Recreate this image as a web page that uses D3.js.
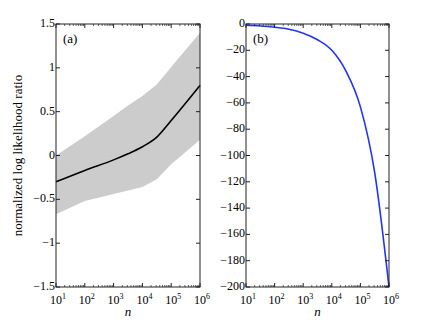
<!DOCTYPE html>
<html>
<head>
<meta charset="utf-8">
<script src="https://cdn.jsdelivr.net/npm/d3@7"></script>
<style>
  body { margin: 0; background: #fff; }
</style>
</head>
<body>
<div id="myChart"></div>
<script>
// data (x is log10 n)
let logN_a   = [1, 2, 3, 3.5, 4, 4.5, 5, 6];
let mean_a   = [-0.30, -0.17, -0.05, 0.02, 0.10, 0.21, 0.40, 0.80];
let bandLogN = [1, 2, 3, 3.5, 4, 4.5, 5, 6];
let upper_a  = [0.0, 0.22, 0.45, 0.57, 0.68, 0.81, 1.01, 1.40];
let lower_a  = [-0.67, -0.52, -0.44, -0.40, -0.36, -0.27, -0.10, 0.18];

let logN_b = [1, 1.5, 2, 2.5, 3, 3.5, 4, 4.5, 5, 5.5, 6];
let vals_b = [-1, -1.5, -2.5, -4, -7, -12, -20, -36, -63, -113, -200];

let xTicks  = [1, 2, 3, 4, 5, 6];
let yTicksA = [1.5, 1, 0.5, 0, -0.5, -1, -1.5];
let yTicksB = [0, -20, -40, -60, -80, -100, -120, -140, -160, -180, -200];

let W = 430, H = 323;
let serif = "'Liberation Serif', 'DejaVu Serif', serif";
let svg = d3.select("#myChart").append("svg")
    .attr("width", W).attr("height", H)
    .attr("font-family", serif)
    .style("font-family", serif);

function fmt(v) {
    return v < 0 ? "\u2212" + Math.abs(v) : String(v);
}

function panel(left, right, top, bottom, yDomain, yTicks, label) {
    let x = d3.scaleLinear().domain([1, 6]).range([left, right]);
    let y = d3.scaleLinear().domain(yDomain).range([bottom, top]);
    let g = svg.append("g");

    // minor ticks on the log axis
    let minors = [];
    for (let d = 1; d < 6; d++) for (let k = 2; k <= 9; k++) minors.push(d + Math.log10(k));

    return {x: x, y: y, g: g, draw: function() {
        g.append("rect")
            .attr("x", left).attr("y", top)
            .attr("width", right - left).attr("height", bottom - top)
            .attr("fill", "none").attr("stroke", "#222").attr("stroke-width", 1);

        minors.forEach(function(m) {
            g.append("line").attr("x1", x(m)).attr("x2", x(m))
                .attr("y1", bottom).attr("y2", bottom - 2).attr("stroke", "#222").attr("stroke-width", 0.7);
            g.append("line").attr("x1", x(m)).attr("x2", x(m))
                .attr("y1", top).attr("y2", top + 2).attr("stroke", "#222").attr("stroke-width", 0.7);
        });
        xTicks.forEach(function(t) {
            g.append("line").attr("x1", x(t)).attr("x2", x(t))
                .attr("y1", bottom).attr("y2", bottom - 4).attr("stroke", "#222");
            g.append("line").attr("x1", x(t)).attr("x2", x(t))
                .attr("y1", top).attr("y2", top + 4).attr("stroke", "#222");
            let tx = g.append("text").attr("x", x(t) + 2).attr("y", bottom + 17)
                .attr("text-anchor", "middle").attr("font-size", 12);
            tx.append("tspan").text("10");
            tx.append("tspan").attr("dy", -5).attr("font-size", 8).text(t);
        });
        yTicks.forEach(function(t) {
            g.append("line").attr("x1", left).attr("x2", left + 4)
                .attr("y1", y(t)).attr("y2", y(t)).attr("stroke", "#222");
            g.append("line").attr("x1", right).attr("x2", right - 4)
                .attr("y1", y(t)).attr("y2", y(t)).attr("stroke", "#222");
            g.append("text").attr("x", left - 1).attr("y", y(t) + 3)
                .attr("text-anchor", "end").attr("font-size", 12).text(fmt(t));
        });
        g.append("text").attr("x", (left + right) / 2).attr("y", bottom + 29)
            .attr("text-anchor", "middle").attr("font-size", 13)
            .attr("font-style", "italic").text("n");
        g.append("text").attr("x", left + 7).attr("y", top + 19)
            .attr("font-size", 13).text(label);
    }};
}

// panel (a)
let pa = panel(56, 200, 24, 287, [-1.5, 1.5], yTicksA, "(a)");
let band = bandLogN.map(function(d, i) { return {n: d, lo: lower_a[i], hi: upper_a[i]}; });
pa.g.append("path").datum(band)
    .attr("fill", "#cccccc")
    .attr("d", d3.area().x(function(d) { return pa.x(d.n); })
        .y0(function(d) { return pa.y(d.lo); })
        .y1(function(d) { return pa.y(d.hi); }));
pa.g.append("path").datum(logN_a.map(function(d, i) { return [d, mean_a[i]]; }))
    .attr("fill", "none").attr("stroke", "#000").attr("stroke-width", 1.6)
    .attr("d", d3.line().curve(d3.curveMonotoneX)
        .x(function(d) { return pa.x(d[0]); })
        .y(function(d) { return pa.y(d[1]); }));
pa.draw();

svg.append("text")
    .attr("transform", "translate(22," + ((24 + 287) / 2) + ") rotate(-90)")
    .attr("text-anchor", "middle").attr("font-size", 13)
    .text("normalized log likelihood ratio");

// panel (b)
let pb = panel(246, 389, 24, 287, [-200, 0], yTicksB, "(b)");
pb.g.append("path").datum(logN_b.map(function(d, i) { return [d, vals_b[i]]; }))
    .attr("fill", "none").attr("stroke", "#2233ff").attr("stroke-width", 1.6)
    .attr("d", d3.line().curve(d3.curveMonotoneX)
        .x(function(d) { return pb.x(d[0]); })
        .y(function(d) { return pb.y(d[1]); }));
pb.draw();
</script>
</body>
</html>
